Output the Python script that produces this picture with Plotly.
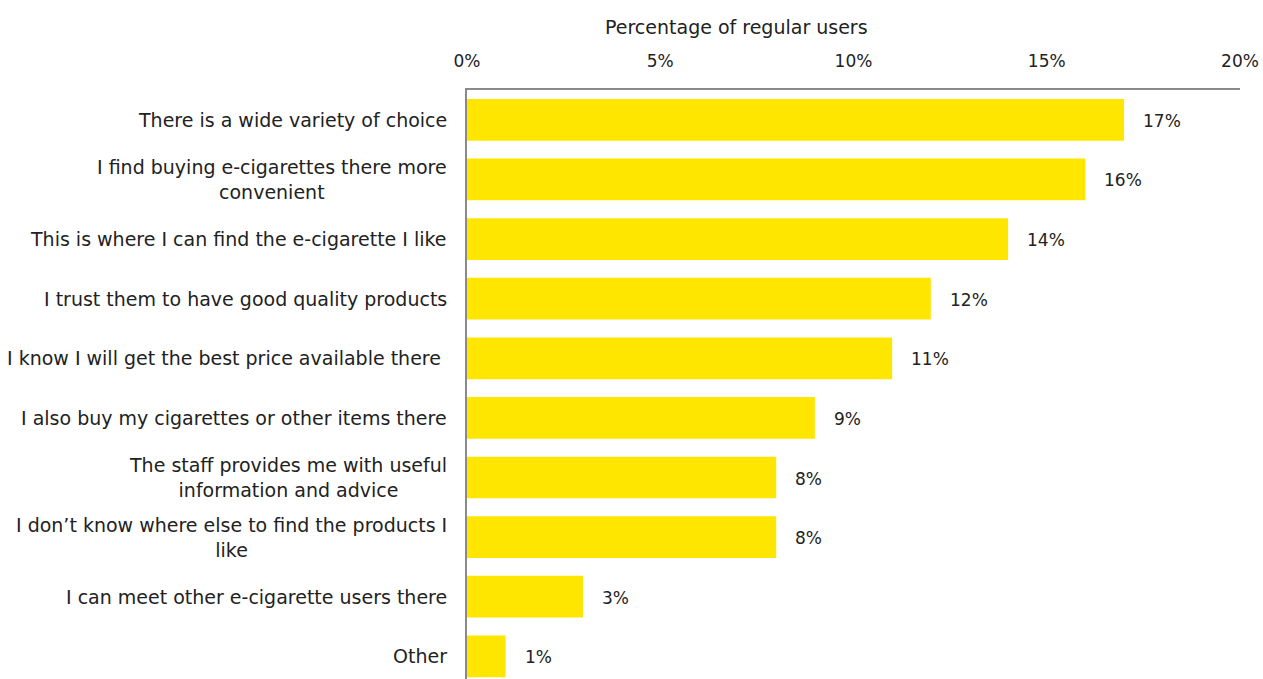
import plotly.graph_objects as go

# Reasons for buying e-cigarettes at a given outlet (share of regular users, %)
reasons = [
    "There is a wide variety of choice",
    "I find buying e-cigarettes there more<br>convenient",
    "This is where I can find the e-cigarette I like",
    "I trust them to have good quality products",
    "I know I will get the best price available there ",
    "I also buy my cigarettes or other items there",
    "The staff provides me with useful<br>information and advice",
    "I don\u2019t know where else to find the products I<br>like",
    "I can meet other e-cigarette users there",
    "Other",
]
share = [17, 16, 14, 12, 11, 9, 8, 8, 3, 1]

x_ticks = [0, 5, 10, 15, 20]
x_tick_text = ["0%", "5%", "10%", "15%", "20%"]

FONT = "DejaVu Sans"
TEXT = "#222222"
YELLOW = "#FFE600"
AXIS = "#8a8a8a"

fig = go.Figure(
    go.Bar(
        x=share,
        y=reasons,
        orientation="h",
        marker=dict(color=YELLOW, line=dict(width=0)),
        width=0.7,
        hoverinfo="skip",
    )
)

# value labels to the right of each bar
for r, v in zip(reasons, share):
    fig.add_annotation(
        x=v, y=r, xref="x", yref="y",
        text=f"{v}%", showarrow=False,
        xanchor="left", xshift=17, yshift=-1,
        font=dict(family=FONT, size=17, color=TEXT),
    )

# category labels, right-aligned against the axis, lines centred
for r in reasons:
    fig.add_annotation(
        x=0, y=r, xref="paper", yref="y",
        text=r, showarrow=False,
        xanchor="right", xshift=-18, align="center",
        font=dict(family=FONT, size=19, color=TEXT),
    )

fig.add_annotation(
    x=0.349, y=1, xref="paper", yref="paper",
    yanchor="bottom", yshift=50,
    text="Percentage of regular users", showarrow=False,
    font=dict(family=FONT, size=19, color=TEXT),
)

fig.update_layout(
    width=1263,
    height=679,
    margin=dict(l=467, r=23, t=90, b=0),
    paper_bgcolor="white",
    plot_bgcolor="white",
    showlegend=False,
    xaxis=dict(
        side="top",
        range=[0, 20],
        tickvals=x_ticks,
        ticktext=x_tick_text,
        showgrid=False,
        zeroline=False,
        showline=True,
        linecolor=AXIS,
        linewidth=2,
        ticks="",
        ticklabelstandoff=14,
        tickfont=dict(family=FONT, size=17, color=TEXT),
        fixedrange=True,
    ),
    yaxis=dict(
        type="category",
        range=[9.38, -0.5],
        showticklabels=False,
        showgrid=False,
        zeroline=False,
        showline=True,
        linecolor=AXIS,
        linewidth=2,
        ticks="",
        fixedrange=True,
    ),
)

fig.write_html("out.html")
